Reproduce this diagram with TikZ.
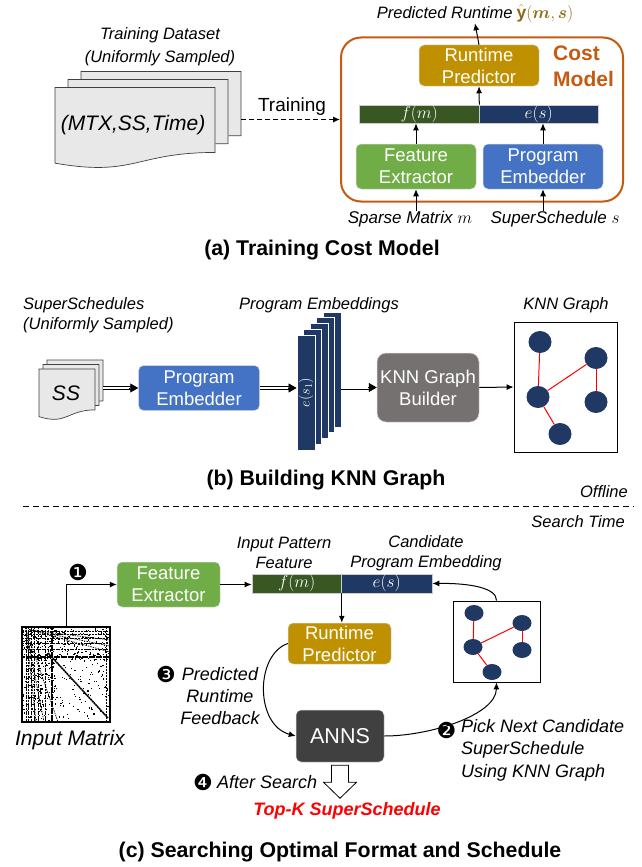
\documentclass[tikz,border=0pt]{standalone}
\usepackage{amsmath}
\usepackage{fontspec}
\setmainfont{Liberation Sans}
\newfontfamily\djv{DejaVu Sans}
\usetikzlibrary{arrows.meta,calc,shapes.geometric}
\definecolor{cgreen}{HTML}{70AD47}
\definecolor{cblue}{HTML}{4472C4}
\definecolor{cgold}{HTML}{BF9000}
\definecolor{cdkgreen}{HTML}{385723}
\definecolor{cnavy}{HTML}{203864}
\definecolor{cgray}{HTML}{767171}
\definecolor{cdark}{HTML}{404040}
\definecolor{corange}{HTML}{C55A11}
\definecolor{cyhat}{HTML}{8C6A12}
\definecolor{cpage}{HTML}{E8E8E8}
\newcommand{\fs}[2]{\fontsize{#1}{#2}\selectfont}
\newcommand{\docpage}[4]{\draw[pagesty] (#1,#2) -- ({#1+#3},#2) -- ({#1+#3},{#2+0.802*#4}) .. controls ({#1+0.5*#3},{#2+0.802*#4}) and ({#1+0.5*#3},{#2+1.107*#4}) .. (#1,{#2+0.934*#4}) -- cycle;}
\newcommand{\dblarr}[2]{%
 \draw[double, double distance=2.2pt, line width=0.9pt, shorten >=7pt] (#1) -- (#2);
 \draw[-{Triangle[length=8pt,width=9pt]}, line width=0.6pt] ($(#2)+(-9,0)$) -- (#2);}
\tikzset{
  box/.style={rounded corners=5pt, text=white, align=center, font=\fs{18.5}{22}, inner sep=0pt, draw=white!85!black, line width=0.5pt},
  lbl/.style={font=\itshape\fs{16.5}{20}, align=center, inner sep=0pt},
  lblc/.style={font=\itshape\fs{18}{22}, align=center, inner sep=0pt},
  arr/.style={-{Latex[length=7pt,width=6pt]}, line width=1pt},
  ttl/.style={font=\bfseries\fs{21.3}{24}, inner sep=0pt},
  pagesty/.style={fill=cpage, draw=black!75, line width=0.7pt},
  cardsty/.style={fill=cnavy, draw=white, line width=0.8pt, minimum width=18pt, minimum height=115pt, inner sep=0pt},
  gnode/.style={ellipse, fill=cnavy, inner sep=0pt},
  gedge/.style={red, line width=1pt},
  barsty/.style={minimum height=18pt, inner sep=0pt, text=white, draw=white!80!black, line width=0.6pt, font=\fs{16.5}{18}},
  num/.style={font=\djv\fs{22}{24}, inner sep=0pt},
}
\begin{document}
\begin{tikzpicture}[x=1pt,y=-1pt]
\useasboundingbox (0,0) rectangle (642,867);
% ---------------- (a) ----------------
\node[lbl, font=\itshape\fs{16.5}{23}] (tdl) at (160,46.5) {Training Dataset\\(Uniformly Sampled)};
\docpage{81}{71.5}{160}{80}
\docpage{68}{79.5}{160}{80}
\docpage{55}{87.5}{160}{81}
\node[font=\itshape\fs{21}{24}, inner sep=0pt] (mtx) at (133,125) {(MTX,SS,Time)};
\node[draw=corange, line width=2pt, rounded corners=20pt, minimum width=282pt, minimum height=164pt, inner sep=0pt] (cm) at (482,119.5) {};
\node[font=\fs{19}{22}, inner sep=0pt] (trn) at (292,107) {Training};
\coordinate (dstart) at (241,119.5);
\draw[arr, dash pattern=on 5pt off 3pt] (dstart) -- (cm.west);
\node[lbl] (pred) at (475,14) {Predicted Runtime\hspace{4pt}\textcolor{cyhat}{\fs{17.5}{20}$\hat{\mathbf{y}}(\boldsymbol{m},\boldsymbol{s})$}};
\node[box, fill=cgold, minimum width=120pt, minimum height=41pt] (rp1) at (479,65.5) {Runtime\\Predictor};
\node[font=\bfseries\fs{21}{26}, text=corange, align=left, anchor=west, inner sep=0pt] (cmt) at (553,66) {Cost\\Model};
\node[barsty, fill=cdkgreen, minimum width=119.5pt] (fm1) at (419.25,114) {$f(m)$};
\node[barsty, fill=cnavy, minimum width=119.5pt] (es1) at (538.75,114) {$e(s)$};
\node[box, fill=cgreen, minimum width=120pt, minimum height=45pt] (fe1) at (416,166.5) {Feature\\Extractor};
\node[box, fill=cblue, minimum width=120pt, minimum height=45pt] (pe1) at (543,166.5) {Program\\Embedder};
\node[lbl, font=\itshape\fs{17}{20}] (sm) at (410,219) {Sparse Matrix $m$};
\node[lbl, font=\itshape\fs{17}{20}] (ssl) at (555,219) {SuperSchedule $s$};
\draw[arr] (sm.north -| fe1.south) -- (fe1.south);
\draw[arr] (ssl.north -| pe1.south) -- (pe1.south);
\draw[arr] (fe1.north) -- (fe1.north |- fm1.south);
\draw[arr] (pe1.north) -- (pe1.north |- es1.south);
\draw[arr] (fm1.north east) -- (rp1.south);
\draw[arr] (rp1.north) -- (pred.south);
\node[ttl] (ta) at (322,250) {(a) Training Cost Model};
% ---------------- (b) ----------------
\node[lbl, align=left, anchor=west, font=\itshape\fs{16.5}{20}] (ssu) at (23,315) {SuperSchedules\\(Uniformly Sampled)};
\node[lbl] (pel) at (319,305) {Program Embeddings};
\node[lbl] (kgl) at (566,305) {KNN Graph};
\docpage{47}{360}{56}{51}
\docpage{43}{364.5}{56}{51}
\docpage{39}{369}{56}{51}
\node[font=\itshape\fs{21}{24}, inner sep=0pt] (ss) at (66,393) {SS};
\coordinate (ssR) at (103,388);
\node[box, fill=cblue, minimum width=121pt, minimum height=45pt] (pe2) at (199,388) {Program\\Embedder};
\dblarr{ssR}{pe2.west}
\foreach \i in {4,3,2,1,0}{\node[cardsty] (card\i) at ({306+6.5*\i},{392.5-5.75*\i}) {};}
\node[rotate=90, text=white, font=\fs{14}{16}, inner sep=0pt] (es0) at (card0) {$e(s_1)$};
\coordinate (c0L) at (pe2.east -| card0.west);
\dblarr{pe2.east}{c0L}
\node[box, fill=cgray, minimum width=102pt, minimum height=69pt, rounded corners=9pt] (kb) at (428,387.5) {KNN Graph\\Builder};
\coordinate (c4R) at (card4.east |- kb.west);
\dblarr{c4R}{kb.west}
\node[draw=black, line width=0.8pt, minimum width=103pt, minimum height=130pt, inner sep=0pt] (kg) at (565.5,387) {};
\draw[arr] (kb.east) -- (kg.west);
\node[gnode, minimum width=23pt, minimum height=22pt] (g1) at (540,342) {};
\node[gnode, minimum width=23pt, minimum height=22pt] (g2) at (596,358) {};
\node[gnode, minimum width=23pt, minimum height=22pt] (g3) at (538,397) {};
\node[gnode, minimum width=23pt, minimum height=22pt] (g4) at (596,402) {};
\node[gnode, minimum width=23pt, minimum height=22pt] (g5) at (560,434) {};
\draw[gedge] (g1) -- (g3);
\draw[gedge] (g3) -- (g2);
\draw[gedge] (g2) -- (g4);
\draw[gedge] (g3) -- (g5);
\node[ttl] (tb) at (326,480) {(b) Building KNN Graph};
\node[lbl, anchor=east] (off) at (628,492) {Offline};
\coordinate (dl) at (23,506);
\coordinate (dr) at (634,506);
\draw[line width=1pt, dash pattern=on 6pt off 4pt] (dl) -- (dr);
\node[lbl, anchor=east] (st) at (625,522) {Search Time};
% ---------------- (c) ----------------
\node[box, fill=cgreen, minimum width=103pt, minimum height=45pt] (fe3) at (168.5,584.5) {Feature\\Extractor};
\node[num] (n1) at (78,572) {❶};
\node[barsty, fill=cdkgreen, minimum width=89.5pt, minimum height=19pt, font=\fs{18}{20}] (fm3) at (296.75,583.5) {$f(m)$};
\node[barsty, fill=cnavy, minimum width=90.5pt, minimum height=19pt, font=\fs{18}{20}] (es3) at (386.75,583.5) {$e(s)$};
\draw[arr] (fe3.east) -- (fe3.east -| fm3.west);
\node[lbl] (ipf) at (284,553) {Input Pattern\\Feature};
\node[lbl] (cpe) at (426,553) {Candidate\\Program Embedding};
\node[box, fill=cgold, minimum width=103pt, minimum height=41pt] (rp3) at (339.5,643.5) {Runtime\\Predictor};
\draw[arr] (fm3.south east) -- (fm3.south east |- rp3.north);
\node[box, fill=cdark, minimum width=88pt, minimum height=52pt, font=\fs{21.5}{24}] (anns) at (340,736) {ANNS};
\draw[arr] (rp3.west) .. controls (255,655) and (255,725) .. (anns.west);
\node[lblc] (prf) at (220,696) {Predicted\\Runtime\\Feedback};
\node[num] (n3) at (166,674) {❸};
\node[draw=black, line width=0.8pt, minimum width=87pt, minimum height=81pt, inner sep=0pt] (kg3) at (496.5,641.5) {};
\node[gnode, minimum width=19pt, minimum height=16pt] (h1) at (474,613) {};
\node[gnode, minimum width=19pt, minimum height=16pt] (h2) at (522,623) {};
\node[gnode, minimum width=19pt, minimum height=16pt] (h3) at (473,647) {};
\node[gnode, minimum width=19pt, minimum height=16pt] (h4) at (522,650) {};
\node[gnode, minimum width=19pt, minimum height=16pt] (h5) at (492,672) {};
\draw[gedge] (h1) -- (h3);
\draw[gedge] (h3) -- (h2);
\draw[gedge] (h2) -- (h4);
\draw[gedge] (h3) -- (h5);
\draw[arr] (anns.east) .. controls (430,736) and (496,715) .. (kg3.south);
\draw[arr] (kg3.north) .. controls (497,588) and (470,583) .. (es3.east);
\node[num] (n2) at (446.5,730) {❷};
\node[lblc, align=left, anchor=north west, font=\itshape\fs{18}{22.5}] (pick) at (461,719) {Pick Next Candidate\\SuperSchedule\\Using KNN Graph};
\node[num] (n4) at (203,782) {❹};
\node[lblc, anchor=west] (as) at (217,782) {After Search};
\draw[line width=0.8pt, fill=white] ($(anns.south)+(-8.5,3)$) -- ++(17,0) -- ++(0,17) -- ++(8,0) -- ++(-16.5,16) -- ++(-16.5,-16) -- ++(8,0) -- cycle;
\node[font=\bfseries\itshape\fs{18}{21}, text=red, inner sep=0pt] (topk) at (347,811) {Top-K SuperSchedule};
% input matrix
\node[minimum width=88pt, minimum height=95pt, inner sep=0pt] (mat) at (66,674.5) {};
\begin{scope}
\clip (mat.south west) rectangle (mat.north east);
\pgfmathsetseed{3}
\foreach \k in {1,...,200}{\fill ({24+84*rnd},{629+91*rnd}) rectangle ++(1.2,1.2);}
\foreach \k in {1,...,180}{\fill ({22+32*rnd},{627+95*rnd}) rectangle ++(1.2,1.2);}
\foreach \k in {1,...,180}{\fill ({22+88*rnd},{627+33*rnd}) rectangle ++(1.2,1.2);}
\foreach \xx in {26,28.5,31,34,38,45}{\draw[line width=0.9pt, dash pattern=on 2pt off 0.7pt] (\xx,627) -- (\xx,722);}
\draw[line width=1.6pt, dash pattern=on 3pt off 0.5pt] (52,627) -- (52,722);
\foreach \yy in {631,634,638,643,649}{\draw[line width=0.9pt, dash pattern=on 2pt off 0.8pt] (22,\yy) -- (110,\yy);}
\draw[line width=1.6pt, dash pattern=on 3pt off 0.5pt] (22,657) -- (110,657);
\draw[line width=1.6pt, dash pattern=on 2pt off 0.5pt] (48,653) -- (108,718);
\foreach \ey in {640,646,652}{\draw[line width=0.7pt, dash pattern=on 1.5pt off 1pt] (30,630) -- (110,\ey);}
\foreach \ex in {36,44,58}{\draw[line width=0.7pt, dash pattern=on 1.5pt off 1pt] (26,630) -- (\ex,722);}
\draw[line width=0.6pt, dash pattern=on 1.5pt off 1.5pt] (106,627) -- (106,722);
\end{scope}
\draw[line width=2.5pt] (mat.south west) rectangle (mat.north east);
\draw[arr] (mat.north) |- (fe3.west);
\node[font=\itshape\fs{21}{24}, inner sep=0pt] (im) at (70,740) {Input Matrix};
\node[ttl] (tc) at (340,852) {(c) Searching Optimal Format and Schedule};
\end{tikzpicture}
\end{document}
